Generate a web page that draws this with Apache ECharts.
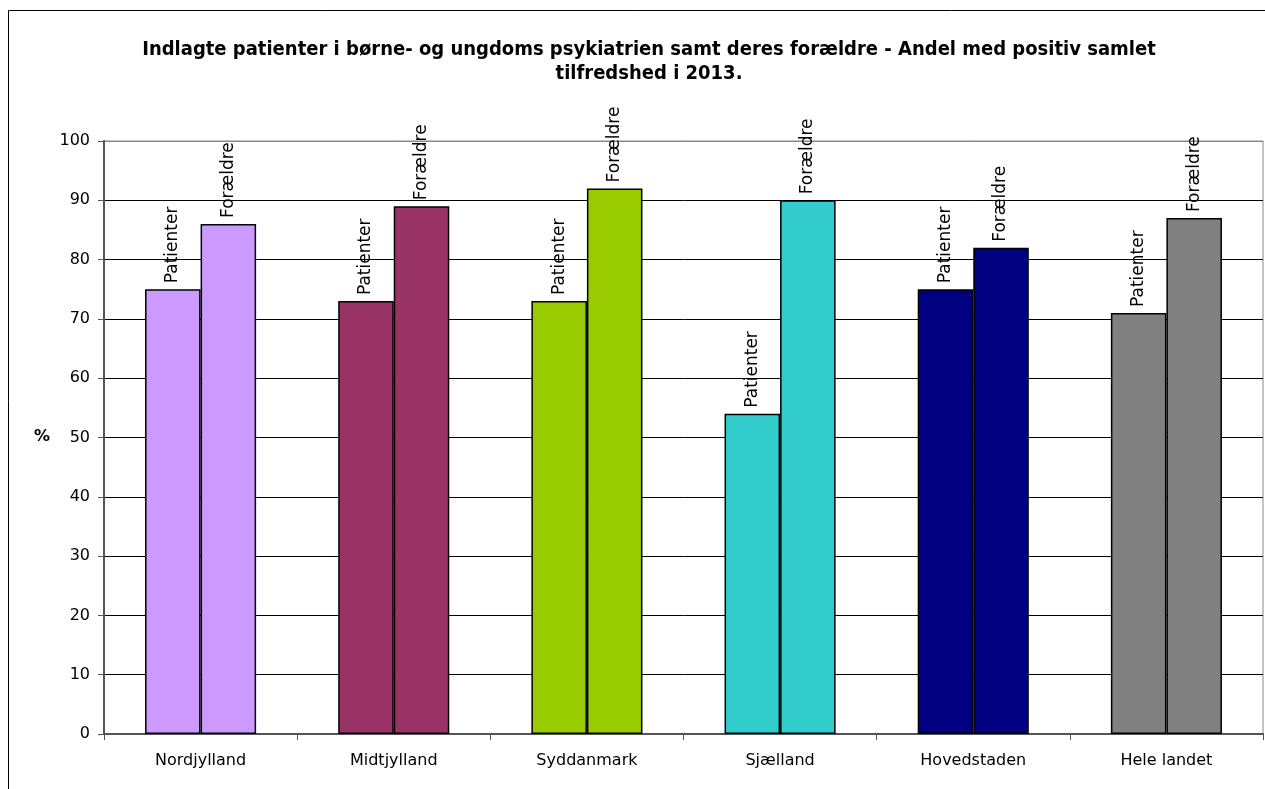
<!DOCTYPE html>
<html>
<head>
<meta charset="utf-8">
<script src="https://cdn.jsdelivr.net/npm/echarts@6/dist/echarts.min.js"></script>
<style>
  html, body { margin: 0; padding: 0; background: #fff; }
  #chart { width: 1265px; height: 789px; }
</style>
</head>
<body>
<div id="chart"></div>
<script>
const regions = ["Nordjylland", "Midtjylland", "Syddanmark", "Sjælland", "Hovedstaden", "Hele landet"];
const patienter = [75, 73, 73, 54, 75, 71];
const foraeldre = [86, 89, 92, 90, 82, 87];
const regionColors = ["#CC99FF", "#993366", "#99CC00", "#33CCCC", "#000080", "#808080"];

const chart = echarts.init(document.getElementById("chart"));

const fontFamily = "DejaVu Sans";
const titleFont = "DejaVu Sans Condensed";

// gridlines are black, the top one (100) is grey like the plot border
const splitColors = ["#000", "#000", "#000", "#000", "#000", "#000", "#000", "#000", "#000", "#000", "#888"];

function barLabel(text) {
  return {
    show: true,
    position: "top",
    rotate: 90,
    align: "left",
    verticalAlign: "middle",
    distance: 6,
    formatter: text,
    color: "#000",
    fontFamily: fontFamily,
    fontSize: 17
  };
}

function barData(values) {
  return values.map(function (v, i) {
    return { value: v, itemStyle: { color: regionColors[i] } };
  });
}

const option = {
  animation: false,
  textStyle: { fontFamily: fontFamily },
  title: {
    text: "Indlagte patienter i børne- og ungdoms psykiatrien samt deres forældre - Andel med positiv samlet\ntilfredshed i 2013.",
    left: 644,
    top: 33,
    textAlign: "center",
    textStyle: {
      fontFamily: titleFont,
      fontWeight: "bold",
      fontSize: 20,
      lineHeight: 24,
      color: "#000"
    }
  },
  graphic: [
    {
      type: "rect",
      shape: { x: 8.5, y: 10.5, width: 1270, height: 800 },
      style: { fill: "none", stroke: "#000", lineWidth: 1 }
    },
    {
      type: "text",
      left: 34,
      top: 429,
      style: { text: "%", fontFamily: fontFamily, fontWeight: "bold", fontSize: 16, fill: "#000" }
    }
  ],
  grid: {
    left: 104, right: 2, top: 141, bottom: 55,
    show: true, borderColor: "#888", borderWidth: 1
  },
  xAxis: {
    type: "category",
    data: regions,
    axisLine: { lineStyle: { color: "#555", width: 2 } },
    axisTick: { show: true, length: 6, lineStyle: { color: "#555" } },
    axisLabel: { color: "#000", fontSize: 16, margin: 19, fontFamily: fontFamily },
    splitLine: { show: false }
  },
  yAxis: {
    type: "value",
    min: 0,
    max: 100,
    interval: 10,
    axisLine: { show: true, lineStyle: { color: "#555", width: 2 } },
    axisTick: { show: true, length: 6, lineStyle: { color: "#555" } },
    axisLabel: { color: "#000", fontSize: 16, margin: 14, fontFamily: fontFamily },
    splitLine: { show: true, lineStyle: { color: splitColors, width: 1 } }
  },
  series: [
    {
      name: "Patienter",
      type: "bar",
      data: barData(patienter),
      barGap: "0%",
      barCategoryGap: "42.5%",
      itemStyle: { borderColor: "#000", borderWidth: 1.5 },
      label: barLabel("Patienter")
    },
    {
      name: "Forældre",
      type: "bar",
      data: barData(foraeldre),
      itemStyle: { borderColor: "#000", borderWidth: 1.5 },
      label: barLabel("Forældre")
    }
  ]
};

chart.setOption(option);

window.addEventListener("resize", function () {
  setTimeout(function () {
    chart.resize();
  }, 200);
});
</script>
</body>
</html>
